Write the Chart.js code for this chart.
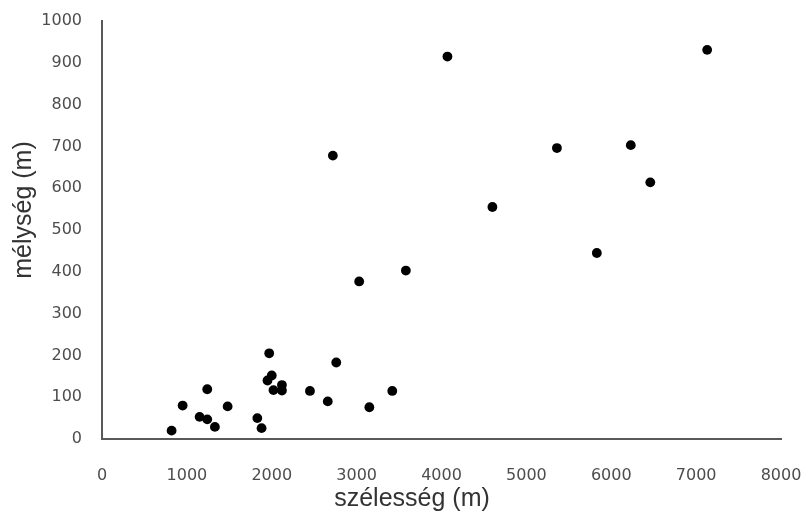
<!DOCTYPE html>
<html>
<head>
<meta charset="utf-8">
<script src="https://cdn.jsdelivr.net/npm/chart.js@4"></script>
<style>
  html, body { margin: 0; padding: 0; background: #fff; }
</style>
</head>
<body>
<canvas id="chart" width="811" height="520"></canvas>
<script>
// width (x) and depth (y) in metres
const widthM = [820, 950, 1150, 1240, 1240, 1330, 1480, 1830, 1880, 1950, 1970, 2000, 2020, 2120, 2120,
                2450, 2660, 2720, 2760, 3030, 3150, 3420, 3580, 4070, 4600, 5360, 5830, 6230, 6460, 7130];
const depthM = [20, 80, 53, 119, 47, 29, 78, 50, 26, 140, 205, 152, 117, 129, 116,
                115, 90, 678, 183, 377, 76, 115, 403, 915, 555, 696, 445, 703, 614, 931];

const xTicks = [0, 1000, 2000, 3000, 4000, 5000, 6000, 7000, 8000];
const yTicks = [0, 100, 200, 300, 400, 500, 600, 700, 800, 900, 1000];

const xTitle = 'szélesség (m)';
const yTitle = 'mélység (m)';

const tickFont = { family: '"DejaVu Sans", sans-serif', size: 16 };
const tickColor = '#4d4d4d';
const axisColor = '#595959';

// axis titles sit a bit off-centre in the original, so draw them by hand
const axisTitles = {
  id: 'axisTitles',
  afterDraw(chart) {
    const ctx = chart.ctx;
    ctx.save();
    ctx.fillStyle = '#333333';
    ctx.font = '25px "Liberation Sans", Arial, sans-serif';
    ctx.textAlign = 'center';
    ctx.textBaseline = 'middle';
    ctx.fillText(xTitle, 412, 499);
    ctx.translate(24, 210);
    ctx.rotate(-Math.PI / 2);
    ctx.fillText(yTitle, 0, 0);
    ctx.restore();
  }
};

new Chart(document.getElementById('chart').getContext('2d'), {
  type: 'scatter',
  data: {
    datasets: [{
      data: widthM.map((x, i) => ({ x: x, y: depthM[i] })),
      backgroundColor: '#000',
      borderColor: '#000',
      borderWidth: 0,
      pointRadius: 4.9
    }]
  },
  options: {
    responsive: false,
    animation: false,
    layout: { padding: { top: 21, right: 30, left: 0, bottom: 0 } },
    plugins: { legend: { display: false }, tooltip: { enabled: false } },
    scales: {
      x: {
        type: 'linear',
        min: 0,
        max: 8000,
        afterBuildTicks: s => { s.ticks = xTicks.map(v => ({ value: v })); },
        afterFit: s => { s.height = 81; s.paddingRight = 0; s.paddingLeft = 0; },
        grid: { display: false },
        border: { display: true, color: axisColor, width: 2 },
        ticks: { font: tickFont, color: tickColor, padding: 19, maxRotation: 0, callback: v => String(v) }
      },
      y: {
        type: 'linear',
        min: 0,
        max: 1000,
        afterBuildTicks: s => { s.ticks = yTicks.map(v => ({ value: v })); },
        afterFit: s => { s.width = 102; s.paddingTop = 0; s.paddingBottom = 0; },
        grid: { display: false },
        border: { display: true, color: axisColor, width: 2 },
        ticks: { font: tickFont, color: tickColor, padding: 12, callback: v => String(v) }
      }
    }
  },
  plugins: [axisTitles]
});
</script>
</body>
</html>
